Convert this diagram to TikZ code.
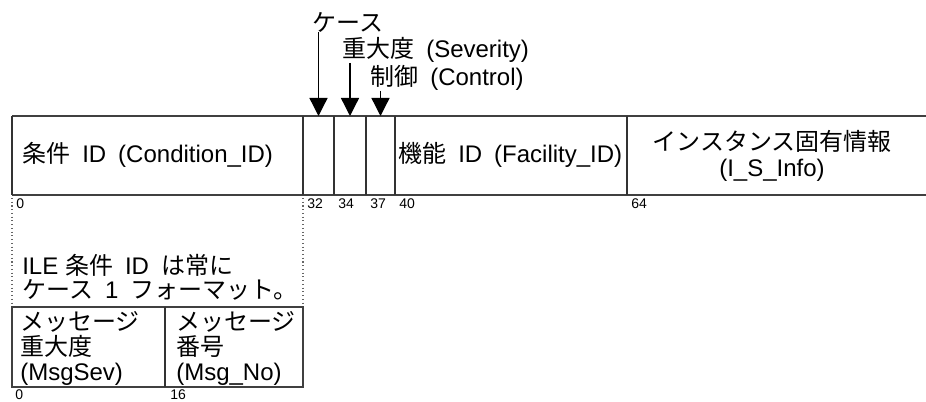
\documentclass[tikz,border=0pt]{standalone}
\usepackage{fontspec}
\setmainfont{Liberation Sans}
\newfontfamily\jpfont{Noto Sans CJK JP}
\newcommand{\ja}[1]{{\jpfont #1}}
\newcommand{\fieldfont}{\fontsize{18}{19}\selectfont\spaceskip 0.5em\relax}
\newcommand{\notefont}{\fontsize{18}{18}\selectfont\spaceskip 0.5em\relax}
\usetikzlibrary{arrows.meta}
\tikzstyle{field} = [anchor=west, inner sep=0pt, font=\fieldfont]
\tikzstyle{bitno} = [anchor=west, inner sep=0pt, font=\fontsize{10.5}{11}\selectfont]
\tikzstyle{frame} = [line width=1.3pt, draw=black!75]
\tikzstyle{divider} = [line width=1pt, draw=black!80]
\tikzstyle{pointer} = [line width=1pt, -{Triangle[length=13.5pt, width=13.5pt]}]
\tikzstyle{guide} = [dotted, line width=0.8pt, black!60]

\begin{document}
\begin{tikzpicture}[x=0.75pt, y=-0.75pt]
    \useasboundingbox (0,0) rectangle (926,402);

    % main record
    \draw[frame] (12,116) -- (926,116);
    \draw[frame] (12,195) -- (926,195);
    \foreach \x in {12,303,334,366,395,627}
        \draw[divider] (\x,116) -- (\x,195);
    \coordinate (caseC) at (318.5,116);
    \coordinate (sevC) at (350,116);
    \coordinate (ctlC) at (380.5,116);

    \node[field] (condID) at (22,155) {\ja{条件} ID (Condition\_ID)};
    \node[field] (facID) at (398,155) {\ja{機能} ID (Facility\_ID)};
    \node[field, anchor=center, align=center] (isInfo) at (772,156)
        {\ja{インスタンス固有情報}\\(I\_S\_Info)};

    % bit positions
    \foreach \x/\n in {12/0,303/32,334/34,366/37,395/40,627/64}
        \node[bitno] (bit\n) at (\x+4,204) {\n};

    % pointers into the small fields
    \node[field] (caseLbl) at (312,22) {\ja{ケース}};
    \node[field] (sevLbl) at (342,50) {\ja{重大度} (Severity)};
    \node[field] (ctlLbl) at (370,78) {\ja{制御} (Control)};
    \draw[pointer] (caseLbl.south -| caseC) -- (caseC);
    \draw[pointer] (sevLbl.south -| sevC) -- (sevC);
    \draw[pointer] (ctlLbl.south -| ctlC) -- (ctlC);

    % ILE condition id
    \draw[guide] (12,198) -- (12,305);
    \draw[guide] (303,198) -- (303,305);
    \node[field, anchor=north west, align=left, font=\notefont] (ileNote) at (22,254)
        {ILE\hspace{0.28em}\ja{条件} ID \ja{は常に}\\\ja{ケース} 1 \ja{フォーマット。}};

    \draw[frame] (12,307) rectangle (303,387);
    \draw[divider] (165,307) -- (165,387);
    \node[field, anchor=north west, align=left] (msgSev) at (20,311) {\ja{メッセージ}\\\ja{重大度}\\(MsgSev)};
    \node[field, anchor=north west, align=left] (msgNo) at (176,311) {\ja{メッセージ}\\\ja{番号}\\(Msg\_No)};
    \node[bitno] (sub0) at (15,395) {0};
    \node[bitno] (sub16) at (170,395) {16};
\end{tikzpicture}
\end{document}
